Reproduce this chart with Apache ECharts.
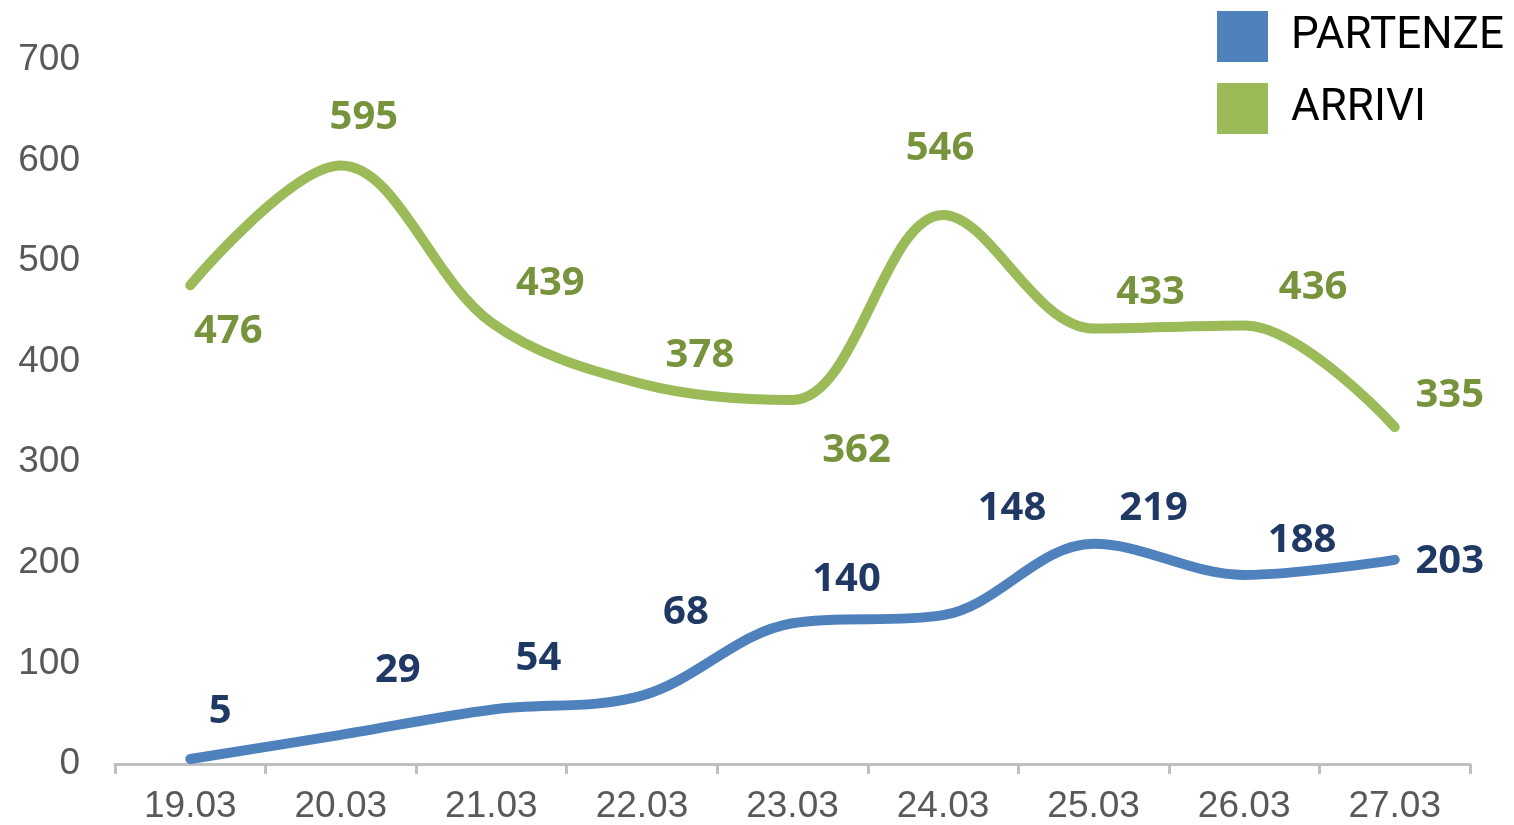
<!DOCTYPE html>
<html>
<head>
<meta charset="utf-8">
<script src="https://cdn.jsdelivr.net/npm/echarts@6/dist/echarts.min.js"></script>
<style>
  html, body { margin: 0; padding: 0; background: #fff; }
  #main { width: 1514px; height: 825px; }
</style>
</head>
<body>
<div id="main"></div>
<script>
// dati
var days = ['19.03', '20.03', '21.03', '22.03', '23.03', '24.03', '25.03', '26.03', '27.03'];
var partenze = [5, 29, 54, 68, 140, 148, 219, 188, 203];
var arrivi = [476, 595, 439, 378, 362, 546, 433, 436, 335];

// spostamento etichette (px)
var offPartenze = [[30, -47], [57, -64], [47, -51], [44, -83], [54, -44], [69, -107], [60, -35], [58, -34], [55, 2]];
var offArrivi = [[38, 46], [23, -48], [59, -39], [58, -28], [64, 51], [-3, -66], [57, -36], [69, -38], [55, -31]];

function withLabels(values, offsets) {
  return values.map(function (v, i) {
    return { value: v, label: { offset: offsets[i] } };
  });
}

var chart = echarts.init(document.getElementById('main'));

var labelBase = {
  show: true,
  position: 'inside',
  fontFamily: 'Noto Sans',
  fontWeight: 'bold',
  fontSize: 40
};

var option = {
  animation: false,
  grid: { left: 115, right: 44, top: 60, bottom: 59 },
  legend: {
    orient: 'vertical',
    left: 1212,
    top: 6,
    itemWidth: 51,
    itemHeight: 51,
    itemGap: 21,
    icon: 'rect',
    textStyle: {
      fontFamily: 'Roboto',
      fontSize: 44,
      color: '#000',
      padding: [0, 0, 0, 18]
    },
    data: ['PARTENZE', 'ARRIVI']
  },
  xAxis: {
    type: 'category',
    data: days,
    boundaryGap: true,
    axisLine: { lineStyle: { color: '#bfbfbf', width: 3 } },
    axisTick: { show: true, length: 10, lineStyle: { color: '#bfbfbf', width: 3 } },
    axisLabel: {
      margin: 24,
      fontFamily: 'Liberation Sans',
      fontSize: 37,
      color: '#595959'
    }
  },
  yAxis: {
    type: 'value',
    min: 0,
    max: 700,
    interval: 100,
    splitLine: { show: false },
    axisLine: { show: false },
    axisTick: { show: false },
    axisLabel: {
      margin: 35,
      fontFamily: 'Liberation Sans',
      fontSize: 37,
      color: '#595959'
    }
  },
  series: [
    {
      name: 'PARTENZE',
      type: 'line',
      smooth: 0.35,
      symbol: 'circle',
      symbolSize: 2,
      color: '#4f81bd',
      lineStyle: { width: 10, cap: 'round', color: '#4f81bd' },
      label: Object.assign({ color: '#1f3864' }, labelBase),
      data: withLabels(partenze, offPartenze)
    },
    {
      name: 'ARRIVI',
      type: 'line',
      smooth: 0.35,
      symbol: 'circle',
      symbolSize: 2,
      color: '#9bbb59',
      lineStyle: { width: 10, cap: 'round', color: '#9bbb59' },
      label: Object.assign({ color: '#77933c' }, labelBase),
      data: withLabels(arrivi, offArrivi)
    }
  ]
};

chart.setOption(option);
</script>
</body>
</html>
